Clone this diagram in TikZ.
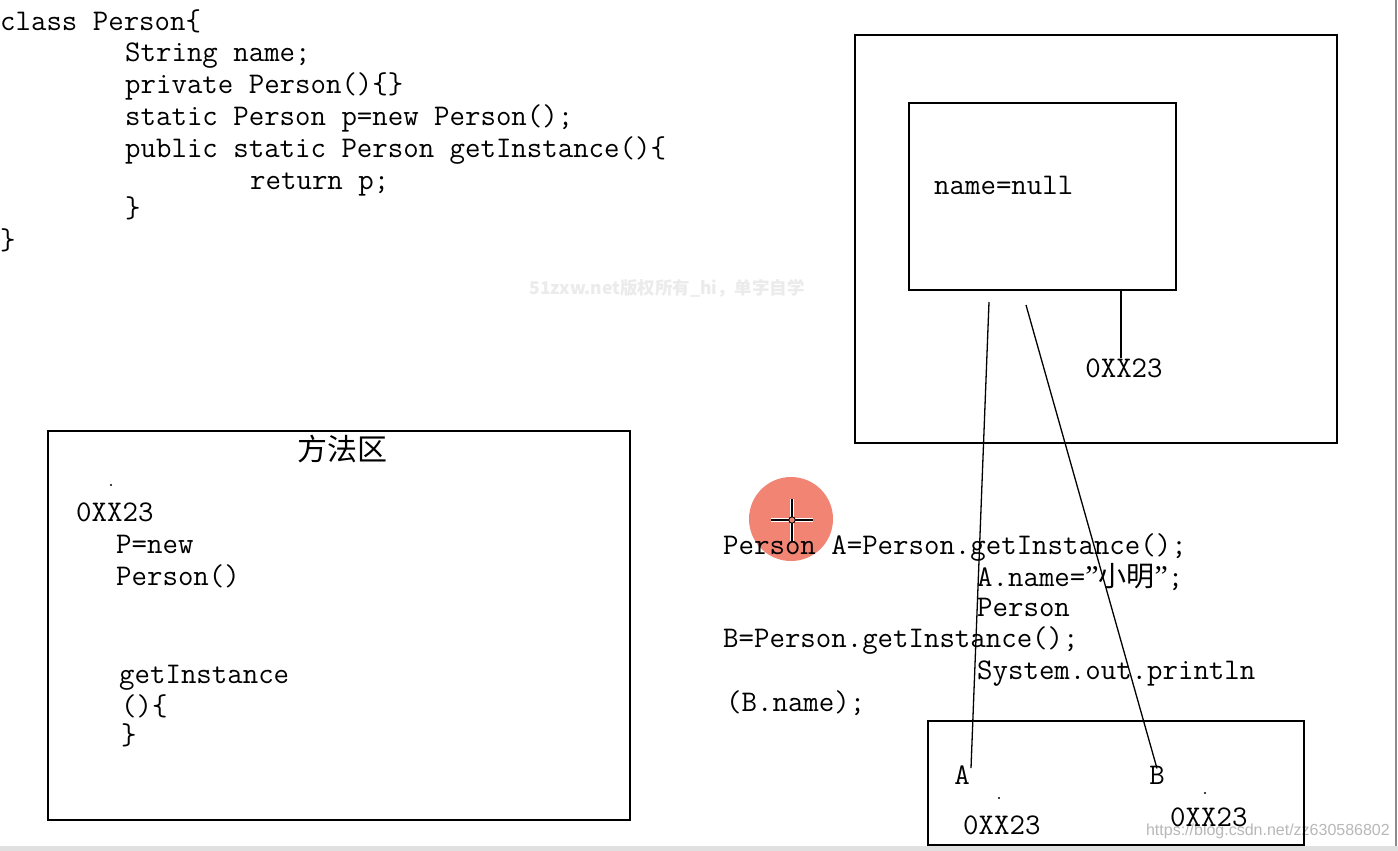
\documentclass[tikz,border=0pt]{standalone}
\usepackage{fontspec}
\usepackage{xcolor}
\usepackage{tikz}
\usetikzlibrary{positioning,calc}
\newfontfamily\cjk{Noto Sans CJK SC}
\newfontfamily\wmfont{Liberation Sans}
\newfontfamily\qfont{Liberation Serif}
\definecolor{cursorred}{RGB}{242,132,116}
\tikzset{
  code/.style  ={font=\ttfamily\fontsize{30}{30}\selectfont,inner sep=0pt,anchor=base west},
  box/.style   ={draw,line width=1.6pt},
  link/.style  ={line width=1.3pt},
  lbl/.style   ={code,anchor=base},
  wm/.style    ={inner sep=0pt,text=black!8},
  pin/.style   ={circle,fill=black,inner sep=0pt,minimum size=2.4pt},
}

\begin{document}
\begin{tikzpicture}[x=1pt,y=-1pt]
  \useasboundingbox[fill=white] (0,0) rectangle (1398,851);
  % screen edges
  \fill[black!12] (0,846) rectangle (1398,851);
  \draw[black!45,line width=2pt] (1396,0) -- (1396,846);
  % watermarks
  \node[wm,font=\cjk\fontsize{17.5}{17.5}\selectfont\bfseries] (wmA) at (667,288) {51zxw.net版权所有\_hi，单字自学};
  \node[wm,font=\wmfont\fontsize{16}{16}\selectfont,text=black!28,anchor=east] (wmB) at (1390,831) {https://blog.csdn.net/zz630586802};
  % class source
  \node[code] (cls)  at (0,31)   {class Person\{};
  \node[code] (fld)  at (125,62) {String name;};
  \node[code] (ctor) at (125,94) {private Person()\{\}};
  \node[code] (inst) at (125,125){static Person p=new Person();};
  \node[code] (getr) at (125,157){public static Person getInstance()\{};
  \node[code] (ret)  at (250,189){return p;};
  \node[code] (rbA)  at (125,217){\}};
  \node[code] (rbB)  at (0,249)  {\}};
  % heap
  \draw[box] (855,35) rectangle (1337,443);
  \node[box,minimum width=267pt,minimum height=187pt] (obj) at (1042.5,196.5) {};
  \node[code] (nm) at (934,194) {name=null};
  \node[lbl] (addr) at (1124,377) {0XX23};
  \draw[link] (obj.south -| 1121,0) -- (addr.north -| 1121,0);
  % method area
  \draw[box] (48,431) rectangle (630,820);
  \node[font=\cjk\fontsize{30}{30}\selectfont,inner sep=0pt] (ma) at (342,449) {方法区};
  \node[pin] (dotM) at (111,485) {};
  \node[code] (maddr) at (76,521)  {0XX23};
  \node[code] (pnew)  at (116,553) {P=new};
  \node[code] (pcon)  at (116,585) {Person()};
  \node[code] (mget)  at (119,683) {getInstance};
  \node[code] (mpar)  at (121,715) {()\{};
  \node[code] (mend)  at (121,744) {\}};
  % cursor highlight
  \fill[cursorred] (791,519) circle (42pt);
  % main statements
  \node[code] (stA) at (723,554) {Person A=Person.getInstance();};
  \node[code] (stN) at (977,586) {A.name={\qfont ”}{\cjk\fontsize{28}{28}\selectfont 小明}{\qfont ”};};
  \node[code] (stP) at (977,616) {Person};
  \node[code] (stB) at (723,647) {B=Person.getInstance();};
  \node[code] (stS) at (977,679) {System.out.println};
  \node[code] (stR) at (726,711) {(B.name);};
  \draw[white,line width=3.4pt] (771,520) -- (813,520) (792,499) -- (792,541);
  \draw[black,line width=1.5pt] (771,520) -- (813,520) (792,499) -- (792,541);
  \draw[black,fill=cursorred,line width=0.9pt] (792,520) circle (3.2pt);
  % stack
  \draw[box] (928,721) rectangle (1304,845);
  \node[lbl] (refA) at (962,784) {A};
  \node[lbl] (refB) at (1157,784) {B};
  \node[pin] (dotA) at (999,798) {};
  \node[pin] (dotB) at (1205,793) {};
  \node[code] (valA) at (963,834) {0XX23};
  \node[code] (valB) at (1170,826) {0XX23};
  % references to the object
  \coordinate (aTop) at (989,302);
  \coordinate (bTop) at (1026,305);
  \draw[link] (aTop) -- ([xshift=9pt,yshift=-3pt]refA.north);
  \draw[link] (bTop) -- ([yshift=-3pt]refB.north);
\end{tikzpicture}
\end{document}
